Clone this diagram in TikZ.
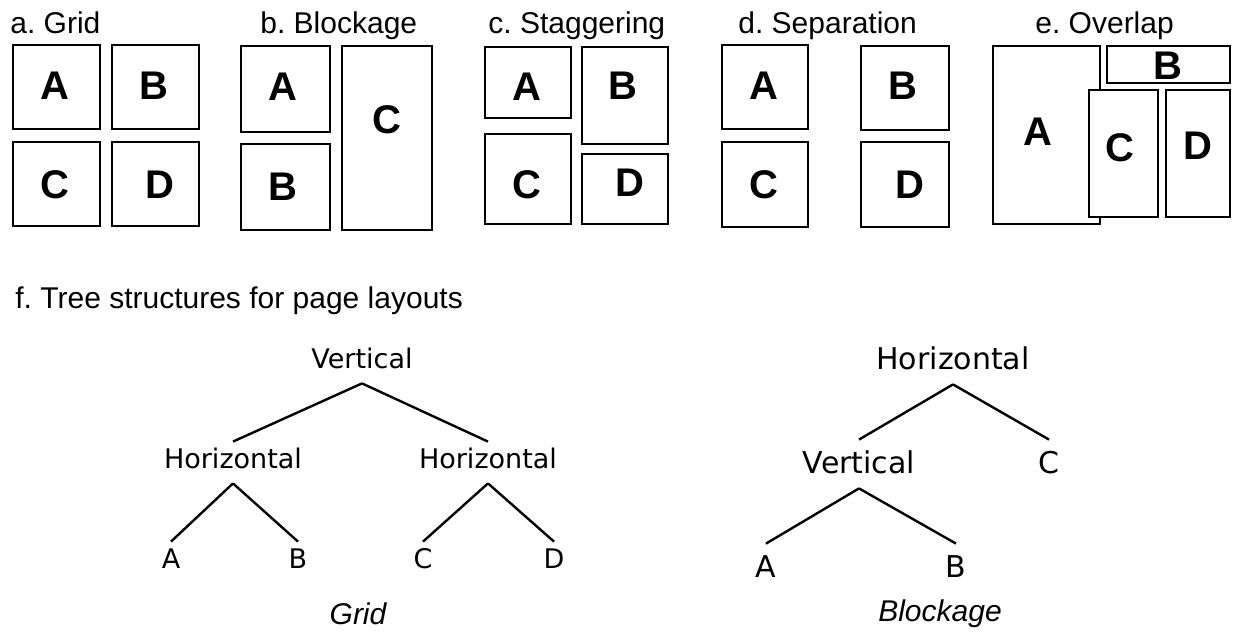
\documentclass[tikz,border=0pt]{standalone}
\usepackage{fontspec}
\setmainfont{Liberation Sans}
\newfontfamily\treefont{DejaVu Sans}
\usepackage{tikz}
\frenchspacing

\tikzset{
    panel/.style={draw, line width=1pt, fill=white},
    title/.style={anchor=base west, inner sep=0, font=\fontsize{15}{18}\selectfont},
    letter/.style={inner sep=0, font=\fontsize{20}{24}\selectfont\bfseries},
    treenode/.style={anchor=base, inner xsep=0, inner ysep=3pt, text height=10pt, text depth=4.5pt, font=\treefont\fontsize{13.5}{16}\selectfont},
    bigtreenode/.style={treenode, text height=13.5pt, font=\treefont\fontsize{15}{18}\selectfont},
    treeedge/.style={line width=1.2pt},
    caption/.style={font=\fontsize{15}{18}\selectfont\itshape}
}

\begin{document}
\begin{tikzpicture}[x=0.5pt, y=-0.5pt]

    % Frame
    \useasboundingbox (0, 0) rectangle (1233, 633);

    % Titles
    \node[title] (ttlA) at (10, 33) {a. Grid};
    \node[title] (ttlB) at (260, 33) {b. Blockage};
    \node[title] (ttlC) at (488, 33) {c. Staggering};
    \node[title] (ttlD) at (738, 33) {d. Separation};
    \node[title] (ttlE) at (1035, 33) {e. Overlap};
    \node[title] (ttlF) at (15, 308) {f. Tree structures for page layouts};

    % a. Grid
    \draw[panel] (13, 45) rectangle (100, 129);
    \draw[panel] (112, 45) rectangle (199, 129);
    \draw[panel] (13, 142) rectangle (100, 226);
    \draw[panel] (112, 142) rectangle (199, 226);
    \node[letter] (gridA) at (55, 86) {A};
    \node[letter] (gridB) at (154, 86) {B};
    \node[letter] (gridC) at (55, 185) {C};
    \node[letter] (gridD) at (160, 185) {D};

    % b. Blockage
    \draw[panel] (241, 46) rectangle (330, 132);
    \draw[panel] (241, 144) rectangle (330, 230);
    \draw[panel] (342, 46) rectangle (432, 230);
    \node[letter] (blkA) at (283, 87) {A};
    \node[letter] (blkB) at (283, 187) {B};
    \node[letter] (blkC) at (387, 120) {C};

    % c. Staggering
    \draw[panel] (485, 47) rectangle (571, 118);
    \draw[panel] (582, 47) rectangle (668, 144);
    \draw[panel] (485, 134) rectangle (571, 224);
    \draw[panel] (582, 154) rectangle (668, 224);
    \node[letter] (stgA) at (527, 87) {A};
    \node[letter] (stgB) at (623, 86) {B};
    \node[letter] (stgC) at (527, 185) {C};
    \node[letter] (stgD) at (630, 183) {D};

    % d. Separation
    \draw[panel] (722, 45) rectangle (808, 129);
    \draw[panel] (861, 46) rectangle (949, 130);
    \draw[panel] (722, 142) rectangle (808, 227);
    \draw[panel] (861, 142) rectangle (949, 227);
    \node[letter] (sepA) at (764, 86) {A};
    \node[letter] (sepB) at (903, 86) {B};
    \node[letter] (sepC) at (764, 185) {C};
    \node[letter] (sepD) at (910, 185) {D};

    % e. Overlap
    \draw[panel] (993, 46) rectangle (1100, 224);
    \draw[panel] (1107, 46) rectangle (1230, 83);
    \draw[panel] (1089, 90) rectangle (1158, 217);
    \draw[panel] (1166, 90) rectangle (1230, 217);
    \node[letter] (ovlA) at (1038, 132) {A};
    \node[letter] (ovlB) at (1168, 66) {B};
    \node[letter] (ovlC) at (1120, 148) {C};
    \node[letter] (ovlD) at (1198, 146) {D};

    % Grid tree
    \node[treenode] (gV) at (362, 368) {Vertical};
    \node[treenode] (gH1) at (233, 468) {Horizontal};
    \node[treenode] (gH2) at (488, 468) {Horizontal};
    \node[treenode] (gA) at (171, 568) {A};
    \node[treenode] (gB) at (298, 568) {B};
    \node[treenode] (gC) at (423, 568) {C};
    \node[treenode] (gD) at (554, 568) {D};
    \draw[treeedge] (gV.south) -- (gH1.north);
    \draw[treeedge] (gV.south) -- (gH2.north);
    \draw[treeedge] (gH1.south) -- (gA.north);
    \draw[treeedge] (gH1.south) -- (gB.north);
    \draw[treeedge] (gH2.south) -- (gC.north);
    \draw[treeedge] (gH2.south) -- (gD.north);
    \node[caption] (capGrid) at (358, 614) {Grid};

    % Blockage tree
    \node[bigtreenode] (bH) at (953, 369) {Horizontal};
    \node[bigtreenode] (bV) at (859, 473) {Vertical};
    \node[bigtreenode] (bC) at (1049, 473) {C};
    \node[bigtreenode] (bA) at (766, 577) {A};
    \node[bigtreenode] (bB) at (956, 577) {B};
    \draw[treeedge] (bH.south) -- (bV.north);
    \draw[treeedge] (bH.south) -- (bC.north);
    \draw[treeedge] (bV.south) -- (bA.north);
    \draw[treeedge] (bV.south) -- (bB.north);
    \node[caption] (capBlk) at (940, 614) {Blockage};

\end{tikzpicture}
\end{document}
